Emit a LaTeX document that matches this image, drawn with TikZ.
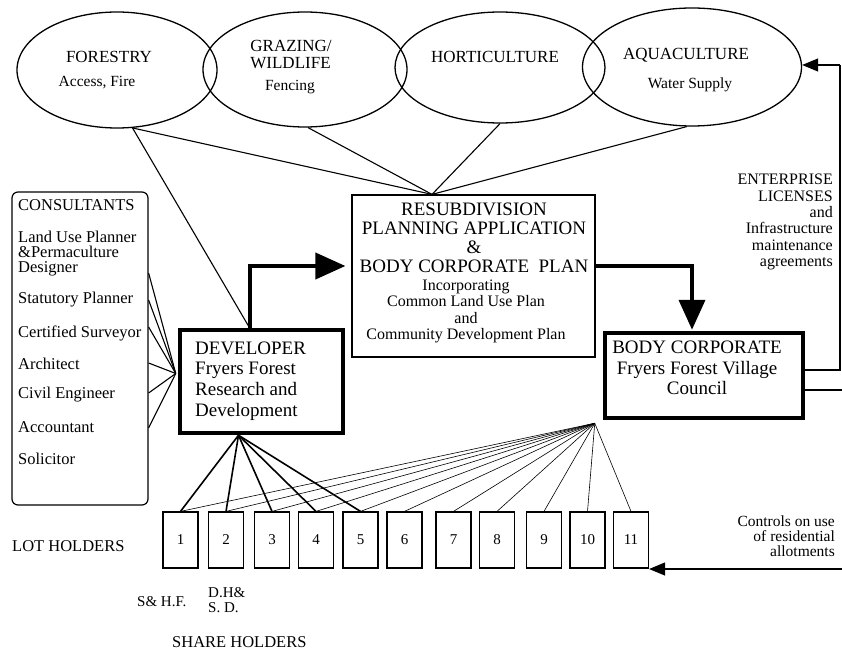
\documentclass[tikz,border=0pt]{standalone}
\usepackage{fontspec}
\setmainfont{Liberation Serif}
\usetikzlibrary{shapes.geometric,arrows.meta,calc}

% font sizes used in the chart
\newcommand\elltitle{\fontsize{17}{17}\selectfont}
\newcommand\ellsub{\fontsize{15.5}{16}\selectfont}
\newcommand\plancaps{\fontsize{19}{18.8}\selectfont}
\newcommand\plansmall{\fontsize{16}{16.3}\selectfont}
\newcommand\boxfont{\fontsize{19}{20.7}\selectfont}
\newcommand\listfont{\fontsize{16.5}{16}\selectfont}
\newcommand\sidefont{\fontsize{16}{16.4}\selectfont}
\newcommand\numfont{\fontsize{15}{15}\selectfont}

\begin{document}
\begin{tikzpicture}[x=1pt,y=1pt,
    crop/.style={draw,ellipse,line width=1.3pt,inner sep=0pt},
    thinbox/.style={draw,line width=1.2pt,inner sep=0pt},
    heavybox/.style={draw,line width=4.5pt,inner sep=0pt},
    lot/.style={draw,line width=1.2pt,minimum width=35pt,minimum height=56pt,inner sep=0pt,font=\numfont},
    txt/.style={inner sep=0pt},
    link/.style={line width=1.1pt},
    fan/.style={line width=0.6pt},
    bigarrow/.style={line width=4pt,-{Triangle[length=30pt,width=26pt]}},
    smallarrow/.style={line width=1.1pt,-{Triangle[length=16pt,width=13pt]}}]

    \useasboundingbox (0,0) rectangle (842,-652);

    % The four enterprises
    \node[crop,minimum width=200pt,minimum height=116pt] (forestry) at (117,-70) {};
    \node[crop,minimum width=204pt,minimum height=115pt] (grazing) at (305,-69.5) {};
    \node[crop,minimum width=210pt,minimum height=111pt] (horti) at (500,-67.5) {};
    \node[crop,minimum width=219pt,minimum height=118pt] (aqua) at (692,-67) {};

    \node[txt,font=\elltitle] (forestryT) at (109,-57) {FORESTRY};
    \node[txt,font=\ellsub] (forestryS) at (97,-83) {Access, Fire};
    \node[txt,font=\elltitle,align=left] (grazingT) at (291,-55) {GRAZING/\\WILDLIFE};
    \node[txt,font=\ellsub] (grazingS) at (290,-87) {Fencing};
    \node[txt,font=\elltitle] (hortiT) at (495,-57) {HORTICULTURE};
    \node[txt,font=\elltitle] (aquaT) at (686,-55) {AQUACULTURE};
    \node[txt,font=\ellsub] (aquaS) at (690,-85) {Water Supply};

    % Planning application
    \node[thinbox,minimum width=243pt,minimum height=162pt] (plan) at (473.5,-276) {};
    \node[txt,font=\plancaps,align=center] (planA) at (474,-238)
        {RESUBDIVISION\\PLANNING APPLICATION\\\&\\BODY CORPORATE\ \ PLAN};
    \node[txt,font=\plansmall,align=center] (planB) at (466,-311.5)
        {Incorporating\\Common Land Use Plan\\and\\Community Development Plan};

    % Consultants
    \node[thinbox,rounded corners=6pt,minimum width=136pt,minimum height=313pt] (consult) at (80,-348.5) {};
    \foreach \y/\t [count=\i] in {205/CONSULTANTS,237/Land Use Planner,252/\&Permaculture,
        269/Designer,300/Statutory Planner,333/Certified Surveyor,364/Architect,
        395/Civil Engineer,427/Accountant,459/Solicitor}
        \node[txt,font=\listfont,anchor=west] (cons\i) at (18,-\y) {\t};

    % Developer and body corporate
    \node[heavybox,minimum width=163pt,minimum height=103pt] (dev) at (261.5,-381.5) {};
    \node[txt,font=\boxfont,align=left,anchor=west] (devT) at (195,-381)
        {DEVELOPER\\Fryers Forest\\Research and\\Development};
    \node[heavybox,minimum width=198pt,minimum height=85pt] (bodycorp) at (704,-375.5) {};
    \node[txt,font=\boxfont,align=center] (bodycorpT) at (697,-368)
        {BODY CORPORATE\\Fryers Forest Village\\Council};

    % Lots
    \foreach \n/\x in {1/180.5,2/226,3/272,4/316,5/360.5,6/404.5,7/453.5,8/497,9/544,10/587.5,11/631}
        \node[lot] (lot\n) at (\x,-540) {\n};

    % Side texts
    \node[txt,font=\sidefont,align=right,anchor=north east] (licT) at (833,-174)
        {ENTERPRISE\\LICENSES\\and\\Infrastructure\\maintenance\\agreements};
    \node[txt,align=right,anchor=north east,
        font={\fontsize{15.5}{15}\selectfont}] (ctrlT) at (835,-516)
        {Controls on use\\of residential\\allotments};
    \node[txt,font=\listfont,anchor=west] (lotholdT) at (12,-546) {LOT HOLDERS};
    \node[txt,font=\numfont,anchor=west] (shA) at (137,-602) {S\& H.F.};
    \node[txt,font=\numfont,align=left,anchor=west] (shB) at (208,-600) {D.H\&\\S. D.};
    \node[txt,font=\listfont,anchor=west] (shareT) at (172,-642) {SHARE HOLDERS};

    % Lines from the enterprises into the application
    \coordinate (apex) at ($(plan.north)+(-41.5,0)$);
    \coordinate (devtop) at ($(dev.north)+(-12,0)$);
    \draw[link] (forestry.-75) -- (apex);
    \draw[link] (grazing.-87) -- (apex);
    \draw[link] (horti.south) -- (apex);
    \draw[link] (aqua.-95) -- (apex);
    \draw[link] (forestry.-75) -- (devtop);

    % Consultants to developer
    \coordinate (devin) at ($(dev.west)+(-2,8)$);
    \foreach \y in {273,300,327,363,393,428}
        \draw[link] (consult.east |- 0,-\y) -- (devin);

    % Main flow
    \draw[bigarrow,shorten >=6pt] (devtop) |- ($(plan.west)+(0,10)$);
    \draw[bigarrow,shorten >=1pt] ($(plan.east)+(0,10)$) -| ($(bodycorp.north)+(-12,0)$);

    % Developer and body corporate to the lots
    \coordinate (devfoot) at ($(dev.south)+(-23,0)$);
    \coordinate (bcfoot) at ($(bodycorp.south west)+(-8,-3)$);
    \foreach \n in {1,...,11}
        \draw[fan] (bcfoot) -- (lot\n.north);
    \foreach \n in {1,...,5}
        \draw[link,line width=1.6pt] (devfoot) -- (lot\n.north);

    % Licences and controls on the right
    \coordinate (rtop) at (840,-65);
    \coordinate (redge) at (842,-569);
    \draw[link] (bodycorp.east |- 0,-370) -| (rtop);
    \draw[smallarrow] (rtop) -- (aqua.east |- rtop);
    \draw[link] (bodycorp.east |- 0,-390) -- (842,-390);
    \draw[smallarrow] (redge) -- (lot11.east |- redge);
\end{tikzpicture}
\end{document}
